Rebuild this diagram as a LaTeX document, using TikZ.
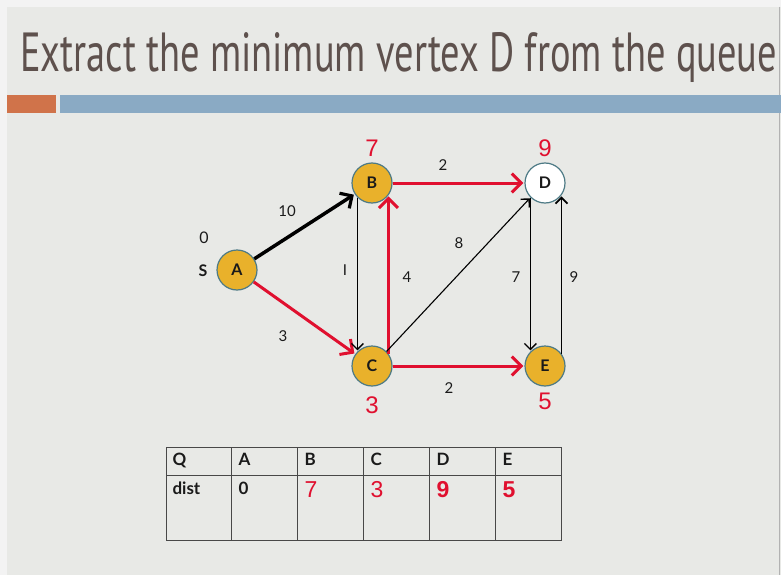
\documentclass[tikz,border=0pt]{standalone}
\usepackage{fontspec}
\setmainfont{Lato}
\newfontfamily\titlefont{PT Sans}
\newfontfamily\numfont{Liberation Sans}
\usetikzlibrary{arrows.meta}
\definecolor{outerbg}{HTML}{F3F3F3}
\definecolor{slidebg}{HTML}{E8E9E6}
\definecolor{titlecol}{HTML}{5E514D}
\definecolor{orangebar}{HTML}{D0734A}
\definecolor{bluebar}{HTML}{8AAAC4}
\definecolor{nodefill}{HTML}{E9B12B}
\definecolor{nodeline}{HTML}{4D7A85}
\definecolor{redc}{HTML}{E0102F}
\definecolor{txt}{HTML}{1A1A1A}
\tikzset{
  vert/.style={circle, draw=nodeline, line width=1.2pt, fill=nodefill, minimum size=40pt, inner sep=0pt, font=\fontsize{16}{16}\selectfont\bfseries, text=txt},
  vertw/.style={vert, fill=white},
  distlab/.style={text=redc, font=\numfont\fontsize{24}{24}\selectfont},
  elab/.style={text=txt, font=\fontsize{15}{15}\selectfont},
  thickblack/.style={draw=black, line width=3.5pt, -{Straight Barb[length=9pt,width=18pt,line width=3.2pt]}, shorten >=1pt},
  thickred/.style={draw=redc, line width=3pt, -{Straight Barb[length=9.5pt,width=19pt,line width=3pt]}, shorten >=1pt},
  thinblack/.style={draw=black, line width=1.1pt, -{Straight Barb[length=6pt,width=12pt,line width=1.4pt]}, shorten >=1pt},
  medblack/.style={draw=black, line width=1.7pt, -{Straight Barb[length=6pt,width=12pt,line width=1.8pt]}, shorten >=1pt},
  cellhead/.style={anchor=north west, font=\fontsize{17}{17}\selectfont\bfseries, text=txt},
  cellnum/.style={anchor=north west, text=redc, font=\numfont\fontsize{23}{23}\selectfont},
}
\begin{document}
\begin{tikzpicture}[x=1pt,y=-1pt]
\useasboundingbox (0,0) rectangle (781,575);
\fill[outerbg] (0,0) rectangle (781,575);
\fill[slidebg] (7,7) rectangle (781,575);
\draw[gray!60, line width=0.8pt] (779.5,7) -- (779.5,575);
% title
\node[anchor=base west, inner sep=0pt, text=titlecol] (title) at (20,72)
  {\resizebox{757pt}{39pt}{\titlefont Extract the minimum vertex D from the queue}};
% bars
\fill[orangebar] (7,95) rectangle (56,113);
\fill[bluebar] (60,95) rectangle (781,113);
% vertices
\node[vert] (A) at (237,270) {A};
\node[vert] (B) at (372,183) {B};
\node[vertw] (D) at (545,183) {D};
\node[vert] (C) at (372,366) {C};
\node[vert] (E) at (545,366) {E};
% vertex annotations
\node[elab, font=\fontsize{16}{16}\selectfont] (zero) at (204,238) {0};
\node[elab, font=\fontsize{16}{16}\selectfont\bfseries] (s) at (203,271) {S};
\node[distlab] (dB) at (372,148) {7};
\node[distlab] (dD) at (545,148) {9};
\node[distlab] (dC) at (372,405) {3};
\node[distlab] (dE) at (545,401) {5};
% edges
\draw[thickblack] (A) -- (B);
\draw[thickred] (A) -- (C);
\draw[thickred] (B) -- (D);
\draw[thickred] (C) -- (E);
\draw[thickred] (C.37) -- (B.-37);
\draw[thinblack] (B.-135) -- (C.135);
\draw[thinblack] (C.45) -- (D.-135);
\draw[thinblack] (D.-135) -- (E.135);
\draw[medblack] (E.37) -- (D.-37);
% edge labels
\node[elab] (l10) at (287,211) {10};
\node[elab] (l2a) at (443,165) {2};
\node[elab] (l8) at (459,243) {8};
\node[elab] (l1) at (345,270) {I};
\node[elab] (l4) at (407,277) {4};
\node[elab] (l7) at (516,277) {7};
\node[elab] (l9) at (574,277) {9};
\node[elab] (l3) at (283,336) {3};
\node[elab] (l2b) at (449,388) {2};
% table
\draw[txt!80, line width=1pt] (166,447) rectangle (561,540);
\draw[txt!80, line width=1pt] (166,475) -- (561,475);
\foreach \x in {231,297,363,429,495} \draw[txt!80, line width=1pt] (\x,447) -- (\x,540);
\node[cellhead] (hQ) at (169,450) {Q};
\node[cellhead] (hA) at (235,450) {A};
\node[cellhead] (hB) at (301,450) {B};
\node[cellhead] (hC) at (367,450) {C};
\node[cellhead] (hD) at (433,450) {D};
\node[cellhead] (hE) at (499,450) {E};
\node[cellhead] (vdist) at (169,478) {dist};
\node[cellhead] (vA) at (235,479) {0};
\node[cellnum] (vB) at (301,478) {7};
\node[cellnum] (vC) at (367,478) {3};
\node[cellnum, font=\numfont\fontsize{23}{23}\selectfont\bfseries] (vD) at (433,478) {9};
\node[cellnum, font=\numfont\fontsize{23}{23}\selectfont\bfseries] (vE) at (499,478) {5};
\end{tikzpicture}
\end{document}
